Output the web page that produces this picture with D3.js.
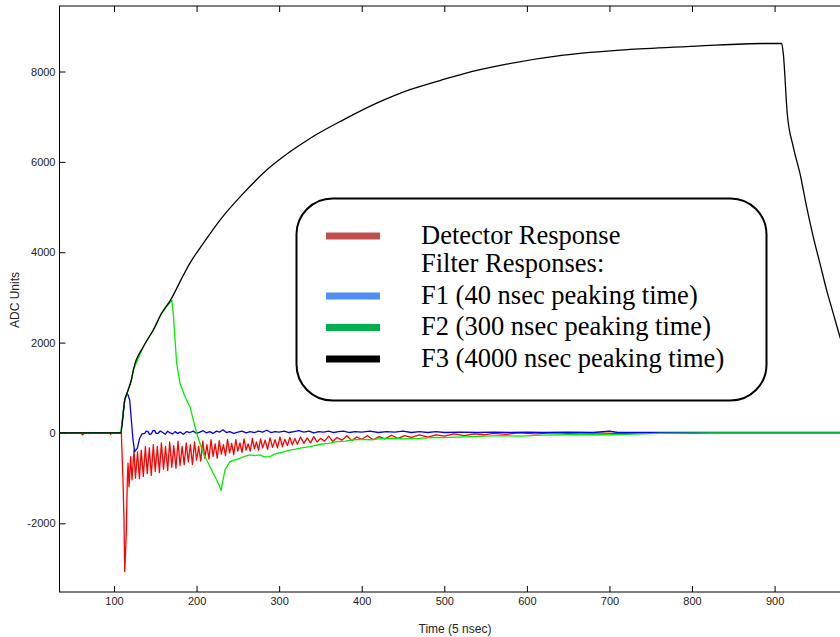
<!DOCTYPE html>
<html>
<head>
<meta charset="utf-8">
<script src="https://cdn.jsdelivr.net/npm/d3@7"></script>
<style>
body { margin: 0; background: #fff; }
svg { display: block; }
.axis text { font-family: "Liberation Sans", Arial, sans-serif; font-size: 11px; fill: #222; }
.axis line { stroke: #000; }
.title { font-family: "Liberation Sans", Arial, sans-serif; font-size: 12px; fill: #222; }
.legend text { font-family: "Liberation Serif", "Times New Roman", serif; font-size: 26.5px; fill: #000; }
</style>
</head>
<body>
<script>
// tick values
var xTicks = [100, 200, 300, 400, 500, 600, 700, 800, 900];
var yTicks = [-2000, 0, 2000, 4000, 6000, 8000];

// [time, ADC] pairs
var detector = [
  [34,0],[60,0],[62,-40],[64,0],[95,0],[96,-30],[97,0],[108.9,0],[110.9,-1040],[112.1,-1924],
  [113,-3068],[114.9,-2219],[116.1,-1040],[117,-670],[118.2,-1188],[120.2,-524],[121.8,-1040],
  [124.2,-376],[126,-1000],[128.5,-420],[130.8,-1010],[133,-380],[135.5,-960],[138,-300],
  [140.3,-900],[142.8,-330],[145.2,-940],[147.6,-260],[150,-850],[152.5,-300],[155,-880],
  [157.4,-220],[160,-800],[162.4,-300],[165,-830],[167.4,-200],[170,-760],[172.4,-280],
  [175,-780],[177.5,-180],[180,-720],[182.5,-300],[185,-700],[187.5,-220],[190,-640],
  [192.5,-260],[195,-700],[197.5,-200],[200,-600],[202.5,-300],[205,-620],[207.5,-180],
  [210,-560],[212.5,-260],[215,-580],[217.5,-150],[220,-520],[222.5,-240],[225,-560],
  [227.5,-170],[230,-470],[232.5,-260],[235,-500],[237.5,-140],[240,-440],[242.5,-230],
  [245,-480],[247.5,-150],[250,-400],[252.5,-220],[255,-430],[257.5,-130],[260,-380],
  [262.5,-240],[265,-400],[267.5,-120],[270,-350],[272.5,-200],[275,-380],[277.5,-130],
  [280,-330],[283,-160],[286,-360],[289,-110],[292,-320],[295,-150],[298,-330],[301,-90],
  [304,-300],[307,-140],[310,-280],[313,-100],[316,-260],[319,-120],[322,-250],[326,-90],
  [330,-230],[334,-110],[338,-220],[342,-80],[346,-200],[350,-120],[355,-180],[360,-70],
  [365,-190],[370,-100],[376,-160],[382,-60],[388,-170],[394,-90],[400,-140],[407,-60],
  [414,-150],[421,-80],[428,-130],[436,-50],[444,-120],[452,-60],[460,-100],[470,-40],
  [480,-90],[490,-40],[500,-70],[512,-20],[524,-60],[536,-20],[548,-40],[560,-10],[575,-30],
  [590,0],[610,-20],[630,0],[650,-10],[680,0],[720,-15],[740,0],[800,-10],[820,0],[1024,0]
];

var f1 = [
  [34,0],[108.5,0],[113,730],[115.7,876],[117,841],[119,730],[121,288],[123,-155],[125,-413],
  [128.2,-339],[131.1,-117],[134,-20],[137.2,-7],[139,40],[141.2,29],[143,-30],[145.2,-22],
  [147,50],[149.3,51],[151,-10],[153.3,-7],[156,45],[159,10],[162,-30],[165,40],[168,0],
  [171,-20],[174,30],[177,-10],[180,20],[184,-30],[188,30],[192,10],[196,40],[200,-10],
  [204,20],[208,50],[212,0],[216,30],[220,-10],[224,40],[228,20],[232,70],[236,10],[240,30],
  [245,-10],[250,20],[255,40],[260,0],[265,30],[270,10],[275,40],[280,20],[285,60],[290,10],
  [295,30],[300,20],[306,40],[312,10],[318,30],[324,50],[330,20],[336,40],[342,0],[348,30],
  [354,20],[360,40],[366,10],[372,30],[378,40],[385,10],[392,30],[400,20],[410,40],[420,10],
  [430,30],[440,20],[450,40],[460,10],[470,30],[480,10],[490,30],[500,10],[520,20],[540,10],
  [560,20],[580,10],[600,20],[620,10],[650,20],[680,10],[700,40],[710,10],[750,10],[800,10],
  [900,10],[1024,10]
];

var f2 = [
  [34,0],[108,0],[113,730],[115.7,876],[121,1172],[123.4,1393],[135.5,1909],[147.6,2278],
  [157.8,2654],[169.9,2940],[171.8,2648],[173.9,2057],[175.9,1542],[179.9,1099],[186,803],
  [192,582],[196,288],[200.1,0],[204.1,-228],[208.1,-449],[214.2,-670],[220.2,-891],
  [226.3,-1113],[229.6,-1276],[234.4,-818],[240.5,-635],[246,-600],[252.6,-560],[258,-520],
  [264.7,-487],[270,-500],[276.8,-487],[282,-530],[288.9,-524],[294,-470],[299,-449],
  [306,-420],[313.1,-380],[320,-360],[327,-330],[337.3,-300],[350,-250],[360,-230],
  [369.7,-192],[380,-180],[390,-150],[400,-140],[410,-150],[420,-130],[438.2,-117],[450,-130],
  [470.6,-120],[485,-100],[498.8,-104],[515,-90],[531.1,-82],[550,-70],[571.4,-60],
  [591.7,-70],[620,-50],[650,-40],[688.5,-40],[720,-30],[760,-10],[825.4,0],[1024,0]
];

var f3 = [
  [34,0],[108.1,0],[113,730],[115.7,876],[121,1172],[123.4,1393],[135.5,1909],[147.6,2278],
  [157.8,2654],[169,2957],[182,3422],[192,3760],[208.1,4196],[228.4,4712],[256.6,5302],
  [284.9,5818],[313.1,6222],[337.3,6519],[377.7,6930],[418.1,7300],[458.4,7600],[494.8,7800],
  [523,7950],[575.5,8162],[644.1,8361],[724.8,8488],[805.6,8561],[886.3,8620],[908.5,8620],
  [910.5,8399],[915.3,7072],[922.6,6333],[930.7,5745],[938.8,5006],[946.8,4342],[954.9,3754],
  [963,3163],[971,2648],[979.1,2130],[990,1500]
];

var seriesNames = ["Detector Response", "F1 (40 nsec peaking time)", "F2 (300 nsec peaking time)", "F3 (4000 nsec peaking time)"];
var lineColors = ["#ff0000", "#0000ff", "#00ee00", "#000000"];
var swatchColors = ["#c0504d", "#4f8ef5", "#00b050", "#000000"];

var width = 840, height = 637;
var plot = {left: 59.5, top: 6, bottom: 592, right: 877};

var x = d3.scaleLinear().domain([34, 1024]).range([plot.left, plot.right]);
var y = d3.scaleLinear().domain([-3520, 9450]).range([plot.bottom, plot.top]);

var svg = d3.select("body").append("svg")
    .attr("width", width)
    .attr("height", height);

svg.append("defs").append("clipPath")
    .attr("id", "clip")
  .append("rect")
    .attr("x", plot.left)
    .attr("y", plot.top)
    .attr("width", plot.right - plot.left)
    .attr("height", plot.bottom - plot.top);

var plain = function(d) { return String(d); };

// axes, ticks point inward
svg.append("g")
    .attr("class", "axis")
    .attr("transform", "translate(0," + plot.bottom + ")")
    .call(d3.axisBottom(x).tickValues(xTicks).tickSize(-6).tickPadding(5).tickFormat(plain))
    .call(function(g) { g.select(".domain").remove(); });

svg.append("g")
    .attr("class", "axis")
    .attr("transform", "translate(0," + plot.top + ")")
    .call(d3.axisTop(x).tickValues(xTicks).tickSize(-6).tickFormat(""))
    .call(function(g) { g.select(".domain").remove(); });

svg.append("g")
    .attr("class", "axis")
    .attr("transform", "translate(" + plot.left + ",0)")
    .call(d3.axisLeft(y).tickValues(yTicks).tickSize(-6).tickPadding(4).tickFormat(plain))
    .call(function(g) { g.select(".domain").remove(); });

svg.append("rect")
    .attr("x", plot.left)
    .attr("y", plot.top)
    .attr("width", plot.right - plot.left)
    .attr("height", plot.bottom - plot.top)
    .attr("fill", "none")
    .attr("stroke", "#000")
    .attr("stroke-width", 1);

svg.append("text")
    .attr("class", "title")
    .attr("x", 455)
    .attr("y", 633)
    .attr("text-anchor", "middle")
    .text("Time (5 nsec)");

svg.append("text")
    .attr("class", "title")
    .attr("transform", "translate(19,300) rotate(-90)")
    .attr("text-anchor", "middle")
    .text("ADC Units");

var line = d3.line()
    .x(function(d) { return x(d[0]); })
    .y(function(d) { return y(d[1]); });

// the slow filter is a smooth curve
var smoothLine = d3.line()
    .curve(d3.curveMonotoneX)
    .x(function(d) { return x(d[0]); })
    .y(function(d) { return y(d[1]); });

var lines = svg.append("g").attr("clip-path", "url(#clip)");
[detector, f1, f2, f3].forEach(function(s, i) {
  lines.append("path")
      .datum(s)
      .attr("fill", "none")
      .attr("stroke", lineColors[i])
      .attr("stroke-width", 1.3)
      .attr("stroke-linejoin", "round")
      .attr("d", i === 3 ? smoothLine : line);
});

// legend box
var legend = svg.append("g").attr("class", "legend");
legend.append("rect")
    .attr("x", 296.5)
    .attr("y", 198.5)
    .attr("width", 470)
    .attr("height", 202)
    .attr("rx", 36)
    .attr("ry", 36)
    .attr("fill", "#fff")
    .attr("stroke", "#000")
    .attr("stroke-width", 2);

var rows = [
  {text: seriesNames[0], color: swatchColors[0], base: 243.5},
  {text: "Filter Responses:", color: null, base: 272},
  {text: seriesNames[1], color: swatchColors[1], base: 303.5},
  {text: seriesNames[2], color: swatchColors[2], base: 335},
  {text: seriesNames[3], color: swatchColors[3], base: 366.5}
];

rows.forEach(function(r) {
  if (r.color) {
    legend.append("line")
        .attr("x1", 326).attr("x2", 380)
        .attr("y1", r.base - 7.5).attr("y2", r.base - 7.5)
        .attr("stroke", r.color)
        .attr("stroke-width", 7);
  }
  legend.append("text")
      .attr("x", 421)
      .attr("y", r.base)
      .text(r.text);
});
</script>
</body>
</html>
